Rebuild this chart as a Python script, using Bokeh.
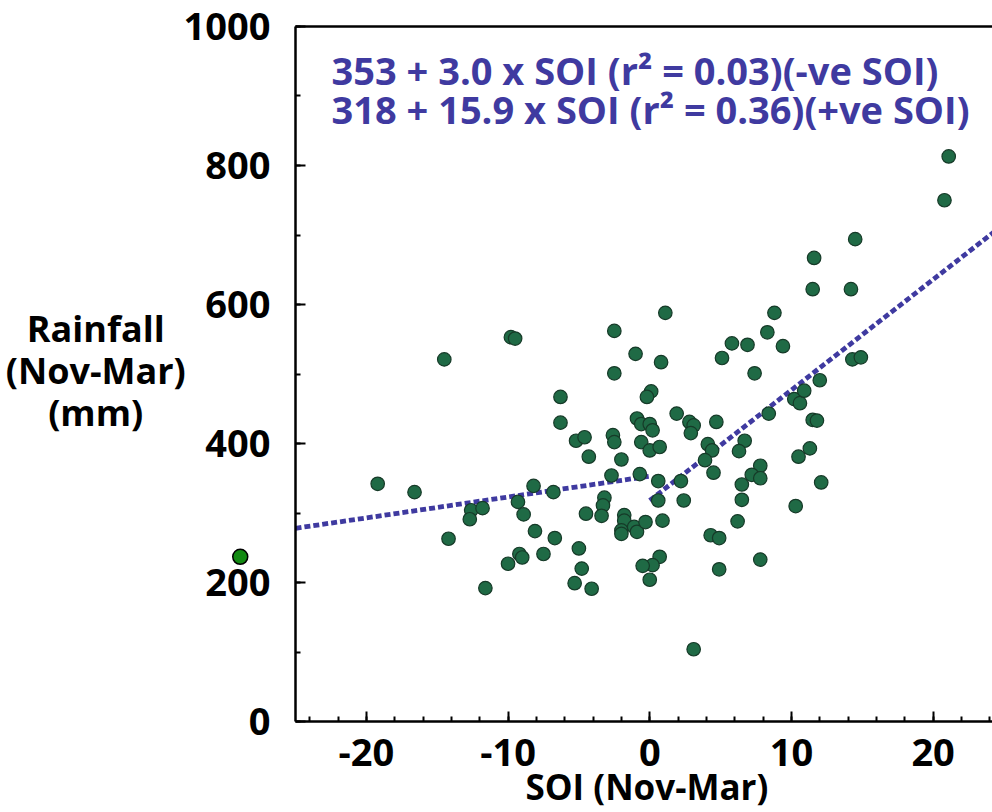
from bokeh.plotting import figure
from bokeh.models import Range1d, SingleIntervalTicker, FixedTicker, LinearAxis, Label
from bokeh.embed import file_html
from bokeh.resources import INLINE

# SOI (Nov-Mar) vs rainfall (Nov-Mar, mm), one point per season
soi = [-19.2, -16.6, -14.5, -14.2, -12.6, -12.7, -11.8, -11.6, -9.8, -9.5,
       -9.3, -8.9, -8.2, -6.8, -8.1, -6.7, -10.0, -9.2, -9.0, -7.5,
       -5.0, -4.8, -5.3, -4.5, -6.3, -6.3, -5.2, -4.6, 1.1, -2.5,
       -1.0, 0.8, -2.5, 0.1, -0.2, 1.9, -0.9, -0.6, 0.0, 0.2,
       2.8, 3.1, 2.9, 4.7, -2.6, -2.5, -0.6, 0.0, 0.7, -4.3,
       -2.0, 4.1, 4.4, 3.9, 6.7, 6.3, 5.1, 5.8, 6.9, 7.4,
       8.3, 8.8, 9.4, 8.4, 10.2, 10.6, 10.5, 4.5, 2.2, 0.6,
       -0.7, -2.7, 6.5, 7.8, 7.2, 7.8, -3.2, -3.3, -3.4, 2.4,
       0.6, 6.5, -1.8, -1.8, -2.0, -2.0, -1.1, -0.9, -0.3, 0.9,
       6.2, 4.3, 4.9, 10.3, 0.7, 0.2, -0.5, 0.0, -4.1, 4.9,
       7.8, 3.1, 21.1, 20.8, 14.5, 11.6, 11.5, 14.2, 14.3, 14.9,
       12.0, 10.9, 11.5, 11.8, 11.3, 12.1]
rain = [342, 330, 521, 263, 304, 291, 307, 192, 553, 551,
        316, 298, 339, 330, 274, 264, 227, 241, 236, 241,
        249, 220, 199, 299, 467, 430, 404, 409, 588, 562,
        529, 517, 501, 475, 467, 443, 436, 428, 428, 419,
        431, 426, 415, 431, 412, 402, 402, 390, 395, 381,
        377, 399, 390, 376, 404, 389, 523, 544, 542, 501,
        560, 588, 540, 443, 464, 458, 381, 358, 346, 346,
        356, 354, 341, 368, 355, 350, 322, 311, 296, 318,
        318, 319, 297, 289, 275, 270, 280, 273, 287, 289,
        288, 268, 264, 310, 237, 225, 224, 204, 191, 219,
        233, 104, 813, 750, 694, 667, 622, 622, 521, 524,
        491, 476, 434, 433, 393, 344]

# separate least-squares fits for negative and positive SOI seasons
neg_fit = (353, 3.0)
pos_fit = (318, 15.9)
neg_x = [-25, 0]
pos_x = [0, 25]
fit_text = ["353 + 3.0 x SOI (r\u00b2 = 0.03)(-ve SOI)",
            "318 + 15.9 x SOI (r\u00b2 = 0.36)(+ve SOI)"]

# highlighted marker beside the rainfall axis
marker_x = [-28.9]
marker_y = [237]

x_ticks = [-20, -10, 0, 10, 20]
x_tick_labels = ["-20", "-10", "0", "10", "20"]

FONT = "Open Sans"
FIT_COLOR = "#3f3aa0"

# the frame fills the canvas; the axes sit at fixed data positions
p = figure(width=992, height=812,
           x_range=Range1d(-45.82, 24.19), y_range=Range1d(-130.9, 1037.4),
           output_backend="svg", toolbar_location=None,
           min_border=0, outline_line_color=None,
           background_fill_color="white", border_fill_color="white")
p.grid.visible = False

xa = p.xaxis[0]
ya = p.yaxis[0]
xa.fixed_location = 0
xa.bounds = (-25, 30)
ya.fixed_location = -25
ya.bounds = (0, 1000)
xa.ticker = SingleIntervalTicker(interval=10, num_minor_ticks=5)
ya.ticker = SingleIntervalTicker(interval=200, num_minor_ticks=2)
xa.major_label_overrides = {t: s for t, s in zip(x_ticks, x_tick_labels)}

for ax in (xa, ya):
    ax.axis_line_width = 2.5
    ax.axis_line_color = "black"
    ax.major_tick_in = 10
    ax.major_tick_out = 0
    ax.minor_tick_in = 5
    ax.minor_tick_out = 0
    ax.major_tick_line_width = 2
    ax.minor_tick_line_width = 2
    ax.major_tick_line_color = "black"
    ax.minor_tick_line_color = "black"
    ax.major_label_text_font = FONT
    ax.major_label_text_font_style = "bold"
    ax.major_label_text_font_size = "38px"
    ax.major_label_text_color = "black"
xa.major_label_standoff = 17
ya.major_label_standoff = 25

# top frame line
top = LinearAxis(ticker=FixedTicker(ticks=[]), fixed_location=1000,
                 bounds=(-25, 30), axis_line_width=2.5, axis_line_color="black",
                 major_tick_line_color=None, minor_tick_line_color=None)
p.add_layout(top, "above")

# regression lines
p.line(neg_x, [neg_fit[0] + neg_fit[1] * x for x in neg_x],
       line_color=FIT_COLOR, line_width=4.8, line_dash="6 3")
p.line(pos_x, [pos_fit[0] + pos_fit[1] * x for x in pos_x],
       line_color=FIT_COLOR, line_width=4.8, line_dash="6 3")

# seasons
p.scatter(soi, rain, size=13.5, fill_color="#1f6a45", line_color="#163a28",
          line_width=1.2)

# marker beside the axis
p.scatter(marker_x, marker_y, size=15, fill_color="#128a12",
          line_color="black", line_width=1.5)

# fit equations
for i, t in enumerate(fit_text):
    p.add_layout(Label(x=-22.46, y=937 - 55.4 * i, text=t, text_align="left",
                       text_baseline="middle", text_font=FONT,
                       text_font_style="bold", text_font_size="38px",
                       text_color=FIT_COLOR))

# axis titles
p.add_layout(Label(x=-39.1, y=505, text="Rainfall\n(Nov-Mar)\n(mm)",
                   text_align="center", text_baseline="middle",
                   text_font=FONT, text_font_style="bold",
                   text_font_size="36px", text_line_height=0.86,
                   text_color="black"))
p.add_layout(Label(x=-0.2, y=-93.5, text="SOI (Nov-Mar)", text_align="center",
                   text_baseline="middle", text_font=FONT,
                   text_font_style="bold", text_font_size="35px",
                   text_color="black"))

open("out.html", "w").write(file_html(p, INLINE))
